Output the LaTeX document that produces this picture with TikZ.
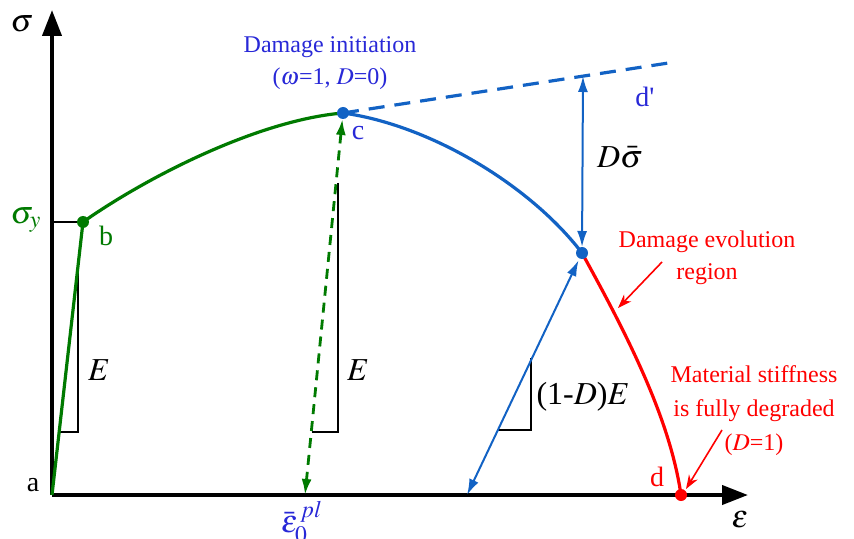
\documentclass[tikz,border=0pt]{standalone}
\usepackage{mathptmx}
\usepackage{fontspec}
\setmainfont{Liberation Serif}
\usetikzlibrary{arrows.meta,positioning}
\definecolor{grn}{RGB}{0,122,0}
\definecolor{cblue}{RGB}{18,98,196}
\definecolor{lblue}{RGB}{40,40,215}
\begin{document}
\begin{tikzpicture}[x=0.5pt,y=-0.5pt,>=Latex,
  lbl/.style={inner sep=0pt,font=\fontsize{12}{16}\selectfont,align=center},
  plbl/.style={inner sep=0pt,font=\fontsize{14}{16}\selectfont},
  mlbl/.style={inner sep=0pt,font=\fontsize{16}{18}\selectfont},
  dot/.style={circle,inner sep=0pt,minimum size=6pt},
  axis/.style={line width=2pt,-{Triangle[length=13pt,width=9.5pt]}},
  curve/.style={line width=1.6pt},
  barr/.style={cblue,line width=1pt,{Latex[length=8pt,width=5pt]}-{Latex[length=8pt,width=5pt]}},
  tri/.style={line width=0.7pt},
  note/.style={red,line width=0.8pt,-{Stealth[length=7pt,width=5pt]}}]
  \useasboundingbox (0,0) rectangle (854,539);
  \coordinate (a) at (52,495);
  \coordinate (ytip) at (52,10);
  \coordinate (xtip) at (748,495);
  \coordinate (pb) at (83,222);
  \coordinate (pc) at (343,113);
  \coordinate (pe) at (582,253);
  \coordinate (pd) at (681,495);
  \coordinate (pdp) at (675,62);
  \coordinate (top) at (583,76);
  \coordinate (u1) at (305,495);
  \coordinate (u2) at (467,495);
  \coordinate (sy) at (52,222);
  % axes
  \draw[axis] (a) -- (ytip);
  \draw[axis] (a) -- (xtip);
  \draw[line width=0.7pt] (sy) -- (pb);
  % slope triangles
  \draw[tri] (78,263) |- (58,432);
  \draw[tri] (338,183) |- (312,432);
  \draw[tri] (531,358) |- (497,430);
  % curve
  \draw[curve,grn] (a) -- (pb) .. controls (150,175) and (260,120) .. (pc);
  \draw[curve,cblue] (pc) .. controls (430,125) and (530,185) .. (pe);
  \draw[curve,red] (pe) .. controls (630,340) and (670,420) .. (pd);
  \draw[cblue,line width=1.6pt,dash pattern=on 8pt off 5pt] (pc) -- (pdp);
  % unloading
  \draw[grn,line width=1.4pt,dash pattern=on 5pt off 3.5pt,
    {Latex[length=8pt,width=5pt]}-{Latex[length=8pt,width=5pt]},shorten <=3pt] (pc) -- (u1);
  \draw[barr,shorten >=4pt] (u2) -- (pe);
  \draw[barr,shorten >=3pt] (top) -- (pe);
  % points
  \node[dot,fill=grn] (b) at (pb) {};
  \node[dot,fill=cblue] (c) at (pc) {};
  \node[dot,fill=cblue] (e) at (pe) {};
  \node[dot,fill=red] (d) at (pd) {};
  % labels
  \node[mlbl] (sig) at (22,24) {$\sigma$};
  \node[mlbl] (eps) at (740,520) {$\varepsilon$};
  \node[plbl] (la) at (33,485) {a};
  \node[mlbl,text=grn] (sigy) at (26,220) {$\sigma_y$};
  \node[plbl,text=grn] (lb) at (106,236) {b};
  \node[plbl,text=lblue] (lc) at (358,133) {c};
  \node[lbl,text=lblue] (lini) at (330,63) {Damage initiation\\($\omega$=1, $D$=0)};
  \node[plbl,text=lblue] (ldp) at (645,97) {d\textquotesingle};
  \node[mlbl] (ldsig) at (620,157) {$D\bar{\sigma}$};
  \node[mlbl] (le1) at (99,370) {$E$};
  \node[mlbl] (le2) at (358,370) {$E$};
  \node[mlbl] (lde) at (583,397) {(1-$D$)$E$};
  \node[mlbl,text=lblue] (leps0) at (302,522) {$\bar{\varepsilon}_0^{\,pl}$};
  \node[plbl,text=red] (ld) at (657,477) {d};
  \node[lbl,text=red] (levo) at (707,258) {Damage evolution\\region};
  \node[lbl,text=red,font=\fontsize{12}{17}\selectfont] (lful) at (754,411) {Material stiffness\\is fully degraded\\($D$=1)};
  \coordinate (n1) at (662,262);
  \coordinate (n2) at (618,308);
  \coordinate (n3) at (722,430);
  \coordinate (n4) at (686,489);
  \draw[note] (n1) -- (n2);
  \draw[note] (n3) -- (n4);
\end{tikzpicture}
\end{document}
